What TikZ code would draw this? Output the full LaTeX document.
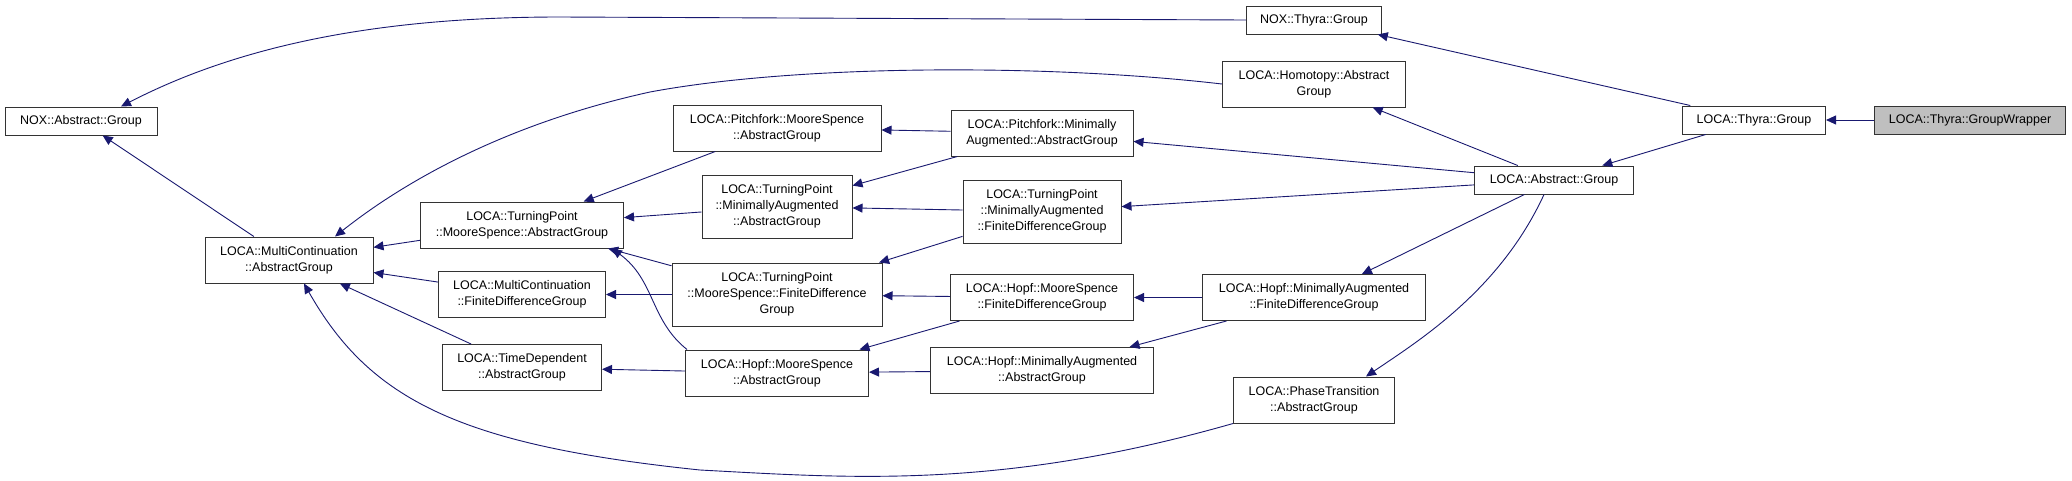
\documentclass[tikz,border=0pt]{standalone}
\usepackage{fontspec}
\setmainfont{Liberation Sans}
\usetikzlibrary{arrows.meta}
\definecolor{edgec}{HTML}{191970}
\definecolor{grayf}{HTML}{BFBFBF}
\begin{document}
\begin{tikzpicture}[x=1pt,y=-1pt,
  box/.style={draw=black!80,line width=1pt,fill=white,align=center,inner sep=0pt,font=\fontsize{12.5}{16}\selectfont},
  inh/.style={draw=edgec,line width=0.9pt,-{Triangle[length=10pt,width=9pt]}}]
\useasboundingbox[fill=white] (0,0) rectangle (2072,480);
% nodes
\node[box,minimum width=152,minimum height=28] (nag) at (81,121) {NOX::Abstract::Group};
\node[box,minimum width=168,minimum height=46] (mc) at (289,260) {LOCA::MultiContinuation\\::AbstractGroup};
\node[box,minimum width=203,minimum height=46] (tms) at (522,225) {LOCA::TurningPoint\\::MooreSpence::AbstractGroup};
\node[box,minimum width=167,minimum height=46] (mcf) at (522,294.5) {LOCA::MultiContinuation\\::FiniteDifferenceGroup};
\node[box,minimum width=159,minimum height=46] (td) at (522,367.5) {LOCA::TimeDependent\\::AbstractGroup};
\node[box,minimum width=135,minimum height=28] (ntg) at (1314,20) {NOX::Thyra::Group};
\node[box,minimum width=183,minimum height=46] (hom) at (1314,84) {LOCA::Homotopy::Abstract\\Group};
\node[box,minimum width=208,minimum height=46] (pms) at (777,128) {LOCA::Pitchfork::MooreSpence\\::AbstractGroup};
\node[box,minimum width=182,minimum height=46] (pma) at (1042,133) {LOCA::Pitchfork::Minimally\\Augmented::AbstractGroup};
\node[box,minimum width=150,minimum height=63] (tma) at (777,206.5) {LOCA::TurningPoint\\::MinimallyAugmented\\::AbstractGroup};
\node[box,minimum width=158,minimum height=63] (tmaf) at (1042,211.5) {LOCA::TurningPoint\\::MinimallyAugmented\\::FiniteDifferenceGroup};
\node[box,minimum width=210,minimum height=63] (tmsf) at (777,294.5) {LOCA::TurningPoint\\::MooreSpence::FiniteDifference\\Group};
\node[box,minimum width=183,minimum height=46] (hmsf) at (1042,297.5) {LOCA::Hopf::MooreSpence\\::FiniteDifferenceGroup};
\node[box,minimum width=223,minimum height=46] (hmaf) at (1314,297.5) {LOCA::Hopf::MinimallyAugmented\\::FiniteDifferenceGroup};
\node[box,minimum width=183,minimum height=46] (hms) at (777,373) {LOCA::Hopf::MooreSpence\\::AbstractGroup};
\node[box,minimum width=223,minimum height=46] (hma) at (1042,370.5) {LOCA::Hopf::MinimallyAugmented\\::AbstractGroup};
\node[box,minimum width=161,minimum height=46] (pt) at (1314,400) {LOCA::PhaseTransition\\::AbstractGroup};
\node[box,minimum width=143,minimum height=28] (lt) at (1754,120) {LOCA::Thyra::Group};
\node[box,minimum width=191,minimum height=28,fill=grayf] (gw) at (1970,120) {LOCA::Thyra::GroupWrapper};
\node[box,minimum width=159,minimum height=28] (la) at (1554,180) {LOCA::Abstract::Group};
% edges
\draw[inh] (ntg.west) -- (560,17) .. controls (380,17) and (240,45) .. ([xshift=40pt]nag.north);
\draw[inh] (mc) -- (nag);
\draw[inh] (hom.west) .. controls (1050,64) and (800,64) .. (650,92) .. controls (500,125) and (400,185) .. ([xshift=46pt]mc.north);
\draw[inh] (tms) -- (mc);
\draw[inh] (mcf) -- (mc);
\draw[inh] (td) -- (mc);
\draw[inh] (pt.south west) .. controls (1000,490) and (850,478) .. (700,470) .. controls (460,445) and (370,400) .. ([xshift=15pt]mc.south);
\draw[inh] (pms) -- (tms);
\draw[inh] (tma) -- (tms);
\draw[inh] (tmsf) -- (tms);
\draw[inh] ([xshift=2pt]hms.north west) .. controls (650,320) and (655,280) .. ([xshift=-12pt]tms.south east);
\draw[inh] (pma) -- (pms);
\draw[inh] (pma) -- (tma);
\draw[inh] (tmaf) -- (tma);
\draw[inh] (tmaf) -- (tmsf);
\draw[inh] (hmsf) -- (tmsf);
\draw[inh] (tmsf) -- (mcf);
\draw[inh] (hms) -- (td);
\draw[inh] (hmsf) -- (hms);
\draw[inh] (hma) -- (hms);
\draw[inh] (hmaf) -- (hmsf);
\draw[inh] (hmaf) -- (hma);
\draw[inh] (la) -- (pma);
\draw[inh] (la) -- (tmaf);
\draw[inh] (la) -- (hom);
\draw[inh] (la) -- (hmaf);
\draw[inh] ([xshift=-10pt]la.south) .. controls (1500,290) and (1420,340) .. ([xshift=52pt]pt.north);
\draw[inh] (lt) -- (la);
\draw[inh] (lt) -- (ntg);
\draw[inh] (gw) -- (lt);
\end{tikzpicture}
\end{document}
